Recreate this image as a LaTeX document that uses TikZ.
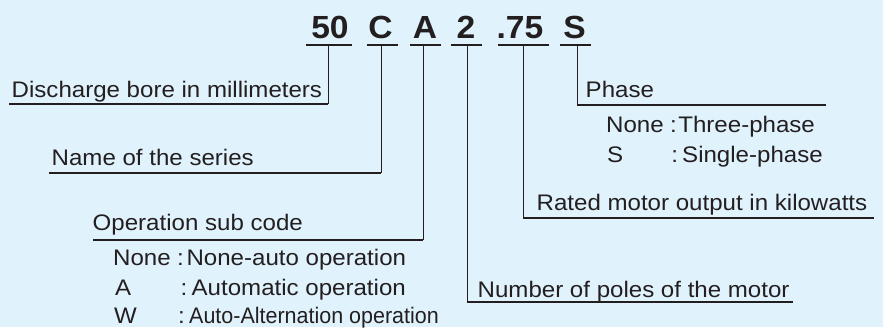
\documentclass[tikz,border=0pt]{standalone}
\usepackage{fontspec}
\setmainfont{Liberation Sans}
\newfontfamily\lblfont[FakeStretch=1.07]{Liberation Sans}
\newfontfamily\lblnarrow[FakeStretch=0.955]{Liberation Sans}
\newfontfamily\codefont[FakeStretch=1.05]{Liberation Sans}
\definecolor{bg}{RGB}{224,242,252}
\definecolor{ink}{RGB}{35,31,32}
\tikzset{
  lbl/.style={anchor=base west, inner sep=0pt, text=ink, font=\lblfont\fontsize{22.5}{22.5}\selectfont},
  code/.style={anchor=base, inner sep=0pt, text=ink, font=\codefont\bfseries\fontsize{32}{32}\selectfont},
  uline/.style={draw=ink, line width=2.8pt},
  vline/.style={draw=ink, line width=1pt},
}
\begin{document}
\begin{tikzpicture}[x=1pt,y=-1pt]
\fill[bg] (0,0) rectangle (883,327);
\useasboundingbox (0,0) rectangle (883,327);
% code
\node[code] (n50) at (330,38) {50};
\node[code] (nC) at (380.5,38) {C};
\node[code] (nA) at (425,38) {A};
\node[code] (n2) at (466,38) {2};
\node[code] (n75) at (520,38) {.75};
\node[code] (nS) at (574.5,38) {S};
\draw[uline] (306,45) -- (352,45);
\draw[uline] (367,45) -- (398,45);
\draw[uline] (410,45) -- (441,45);
\draw[uline] (451,45) -- (482,45);
\draw[uline] (498,45) -- (549,45);
\draw[uline] (560,45) -- (591,45);
\coordinate (t50) at (328,45);
\coordinate (tC) at (381,45);
\coordinate (tA) at (423,45);
\coordinate (t2) at (467,45);
\coordinate (t75) at (523,45);
\coordinate (tS) at (577,45);
% label underline ends
\coordinate (e1) at (328,104);
\coordinate (e2) at (381,173);
\coordinate (e3) at (423,240);
\coordinate (e4) at (467,302);
\coordinate (e5) at (523,218);
\coordinate (e6) at (577,105);
% connectors
\draw[vline] (t50) -- (e1);
\draw[vline] (tC) -- (e2);
\draw[vline] (tA) -- (e3);
\draw[vline] (t2) -- (e4);
\draw[vline] (t75) -- (e5);
\draw[vline] (tS) -- (e6);
% underlines
\draw[uline] (9,104) -- (e1);
\draw[uline] (49,173) -- (e2);
\draw[uline] (93,240) -- (e3);
\draw[uline] (e4) -- (793,302);
\draw[uline] (e5) -- (874,218);
\draw[uline] (e6) -- (826,105);
% labels
\node[lbl] (l1) at (11.5,97) {Discharge bore in millimeters};
\node[lbl] (l2) at (51.5,165) {Name of the series};
\node[lbl] (l3) at (92.5,230) {Operation sub code};
\node[lbl] (l3a) at (113,265) {\makebox[64pt][l]{None}\makebox[9.4pt][l]{:}None-auto operation};
\node[lbl] (l3b) at (115,295) {\makebox[65.5pt][l]{A}\makebox[11pt][l]{:}Automatic operation};
\node[lbl] (l3c) at (114,323) {\makebox[64pt][l]{W}\makebox[11pt][l]{:}{\lblnarrow Auto-Alternation operation}};
\node[lbl] (l4) at (477.5,297) {Number of poles of the motor};
\node[lbl] (l5) at (536.5,210) {Rated motor output in kilowatts};
\node[lbl] (l6) at (585.5,97) {Phase};
\node[lbl] (l6a) at (606,132) {\makebox[64pt][l]{None}\makebox[8.2pt][l]{:}Three-phase};
\node[lbl] (l6b) at (607,162) {\makebox[64.3pt][l]{S}\makebox[10.7pt][l]{:}Single-phase};
\end{tikzpicture}
\end{document}
